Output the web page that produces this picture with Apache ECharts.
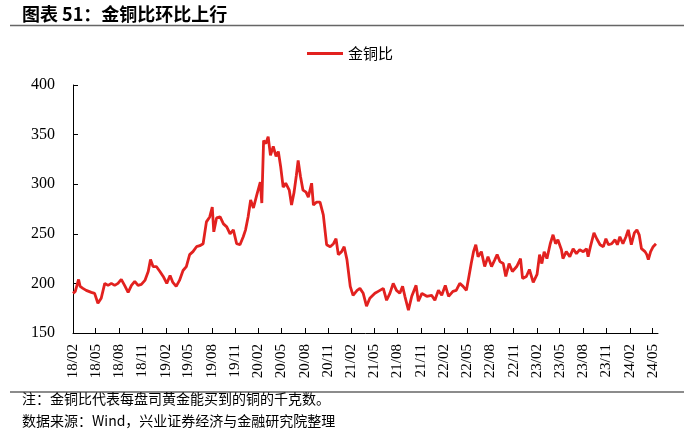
<!DOCTYPE html>
<html>
<head>
<meta charset="utf-8">
<script src="https://cdn.jsdelivr.net/npm/echarts@6/dist/echarts.min.js"></script>
<style>
html,body{margin:0;padding:0;background:#fff;}
#chart{width:700px;height:436px;}
</style>
</head>
<body>
<div id="chart"></div>
<script>
var seriesName = '金铜比';
var titleText = '图表 51：金铜比环比上行';
var noteText = '注：金铜比代表每盘司黄金能买到的铜的千克数。';
var sourceText = '数据来源：Wind，兴业证券经济与金融研究院整理';

var tickLabels = ['18/02','18/05','18/08','18/11','19/02','19/05','19/08','19/11','20/02','20/05','20/08','20/11',
  '21/02','21/05','21/08','21/11','22/02','22/05','22/08','22/11','23/02','23/05','23/08','23/11','24/02','24/05'];

var dates = [
'2018-02-01','2018-02-10','2018-02-23','2018-03-01','2018-03-12','2018-03-25','2018-04-14','2018-04-27','2018-05-10','2018-05-23',
'2018-06-06','2018-06-19','2018-07-02','2018-07-15','2018-07-28','2018-08-10','2018-08-23','2018-09-06','2018-09-19','2018-10-02',
'2018-10-15','2018-10-28','2018-11-11','2018-11-24','2018-12-03','2018-12-13','2018-12-26','2019-01-09','2019-01-22','2019-02-05',
'2019-02-18','2019-03-01','2019-03-14','2019-03-27','2019-04-10','2019-04-23','2019-05-06','2019-05-19','2019-06-02','2019-06-15',
'2019-06-28','2019-07-11','2019-07-24','2019-08-03','2019-08-09','2019-08-20','2019-09-03','2019-09-16','2019-09-29','2019-10-12',
'2019-10-25','2019-11-07','2019-11-20','2019-12-03','2019-12-12','2019-12-22','2020-01-01','2020-01-12','2020-01-25','2020-02-08',
'2020-02-14','2020-02-21','2020-03-01','2020-03-10','2020-03-19','2020-03-30','2020-04-10','2020-04-19','2020-04-28','2020-05-08',
'2020-05-18','2020-06-01','2020-06-10','2020-06-20','2020-06-29','2020-07-06','2020-07-15','2020-07-25','2020-08-06','2020-08-15',
'2020-08-28','2020-09-04','2020-09-17','2020-09-30','2020-10-13','2020-10-26','2020-11-09','2020-11-22','2020-12-02','2020-12-11',
'2020-12-24','2021-01-03','2021-01-14','2021-01-27','2021-02-07','2021-02-23','2021-03-06','2021-03-19','2021-04-01','2021-04-14',
'2021-05-04','2021-05-17','2021-06-06','2021-06-19','2021-07-02','2021-07-15','2021-07-28','2021-08-10','2021-08-21','2021-08-30',
'2021-09-13','2021-09-26','2021-10-13','2021-10-22','2021-11-05','2021-11-24','2021-12-13','2021-12-26','2022-01-09','2022-01-22',
'2022-02-05','2022-02-18','2022-03-07','2022-03-20','2022-04-03','2022-04-16','2022-04-29','2022-05-09','2022-05-18','2022-05-27',
'2022-06-05','2022-06-14','2022-06-27','2022-07-10','2022-07-23','2022-08-06','2022-08-19','2022-08-28','2022-09-08','2022-09-21',
'2022-10-01','2022-10-14','2022-10-27','2022-11-13','2022-11-28','2022-12-06','2022-12-21','2023-01-02','2023-01-17','2023-02-01',
'2023-02-11','2023-02-20','2023-03-01','2023-03-12','2023-03-25','2023-04-05','2023-04-15','2023-04-24','2023-05-08','2023-05-14',
'2023-05-27','2023-06-10','2023-06-23','2023-07-06','2023-07-19','2023-08-02','2023-08-15','2023-08-21','2023-08-30','2023-09-13',
'2023-09-24','2023-10-07','2023-10-20','2023-10-30','2023-11-09','2023-11-22','2023-12-05','2023-12-14','2023-12-24','2024-01-05',
'2024-01-17','2024-01-26','2024-02-07','2024-02-19','2024-02-29','2024-03-09','2024-03-18','2024-04-01','2024-04-08','2024-04-14',
'2024-04-23','2024-05-03','2024-05-14'
];

var values = [
190,192,204,197,195,193,191,190,180,185,
200,198,200,198,200,204,198,191,198,202,
198,199,203,212,224,217,217,212,207,200,
208,201,197,203,213,217,229,232,237,238,
240,262,267,277,252,266,267,260,257,250,
254,240,239,247,254,267,284,276,289,302,
281,344,341,348,329,338,328,333,318,297,
301,294,279,292,309,324,308,294,292,287,
301,279,282,282,269,239,237,240,245,229,
232,237,224,197,188,193,195,190,177,185,
190,192,195,183,190,200,193,190,197,187,
173,187,198,182,190,187,188,183,193,188,
198,187,192,193,200,197,193,207,220,232,
239,227,232,217,227,217,224,229,222,220,
207,220,212,217,225,205,207,214,201,209,
229,220,232,225,240,249,240,244,234,225,
232,227,235,230,234,232,235,227,237,251,
245,239,237,245,239,240,244,239,247,240,
247,254,239,251,254,249,235,232,229,224,
232,237,240
];

var yMin = 150, yMax = 400, yStep = 50;
var xStart = '2018-02-01', xEnd = '2024-05-22';

var DAY = 86400000;
function toDay(s) {
  var p = s.split('-');
  return Math.round(Date.UTC(+p[0], +p[1] - 1, +p[2]) / DAY);
}
var tickDays = tickLabels.map(function (t) {
  var p = t.split('/');
  return Math.round(Date.UTC(2000 + (+p[0]), +p[1] - 1, 1) / DAY);
});
var lineData = dates.map(function (d, i) { return [toDay(d), values[i]]; });

var chart = echarts.init(document.getElementById('chart'), null, {renderer: 'canvas'});
var red = '#E2211F';
var serif = '"Liberation Serif","Times New Roman",serif';
var cjk = '"Noto Sans CJK SC","Noto Sans",sans-serif';

chart.setOption({
  animation: false,
  backgroundColor: '#fff',
  grid: {left: 73, right: 42, top: 85, bottom: 103, containLabel: false},
  legend: {
    data: [seriesName],
    top: 41,
    left: 'center',
    icon: 'rect',
    itemWidth: 36,
    itemHeight: 3,
    itemGap: 10,
    textStyle: {fontFamily: cjk, fontSize: 15, color: '#000'}
  },
  xAxis: {
    type: 'value',
    min: toDay(xStart),
    max: toDay(xEnd),
    splitLine: {show: false},
    axisLine: {show: true, lineStyle: {color: '#000', width: 1}},
    axisTick: {show: true, inside: true, length: 5, lineStyle: {color: '#000'}, customValues: tickDays},
    axisLabel: {
      customValues: tickDays,
      rotate: 90,
      margin: 11,
      fontFamily: serif,
      fontSize: 15,
      color: '#000',
      formatter: function (v) {
        var i = tickDays.indexOf(Math.round(v));
        return i >= 0 ? tickLabels[i] : '';
      }
    }
  },
  yAxis: {
    type: 'value',
    min: yMin,
    max: yMax,
    interval: yStep,
    splitLine: {show: false},
    axisLine: {show: true, lineStyle: {color: '#000', width: 1}},
    axisTick: {show: true, inside: true, length: 5, lineStyle: {color: '#000'}},
    axisLabel: {margin: 18, fontFamily: serif, fontSize: 16, color: '#000'}
  },
  series: [{
    name: seriesName,
    type: 'line',
    data: lineData,
    showSymbol: false,
    symbol: 'none',
    lineStyle: {color: red, width: 2.8},
    itemStyle: {color: red}
  }],
  graphic: [
    {type: 'text', left: 22, top: 5, style: {text: titleText, fontFamily: cjk, fontWeight: 'bold', fontSize: 18, fill: '#000'}},
    {type: 'line', shape: {x1: 10, y1: 25.5, x2: 684, y2: 25.5}, style: {stroke: '#666', lineWidth: 1.5}},
    {type: 'line', shape: {x1: 10, y1: 392, x2: 684, y2: 392}, style: {stroke: '#666', lineWidth: 1.5}},
    {type: 'text', left: 22, top: 392, style: {text: noteText, fontFamily: cjk, fontSize: 14, fill: '#000'}},
    {type: 'text', left: 22, top: 414, style: {text: sourceText, fontFamily: cjk, fontSize: 14, fill: '#000'}}
  ]
});
</script>
</body>
</html>
